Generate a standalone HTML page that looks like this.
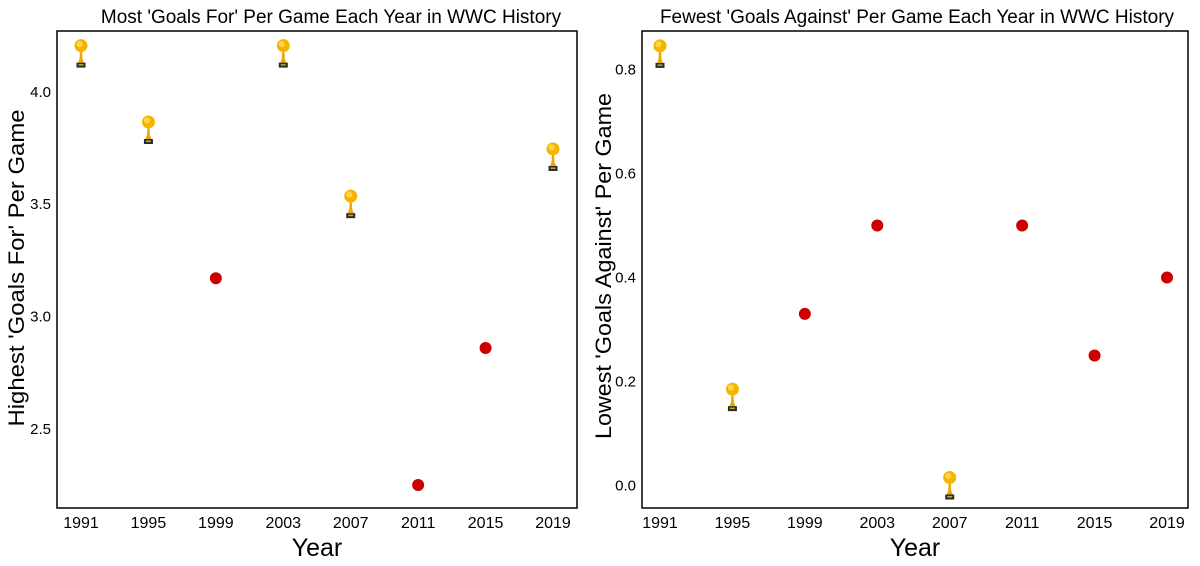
<!DOCTYPE html>
<html><head><meta charset="utf-8"><style>
body{margin:0;background:#fff;font-family:"Liberation Sans",sans-serif}
svg text{font-family:"Liberation Sans",sans-serif}
</style></head><body>
<svg id="c" width="1200" height="561" xmlns="http://www.w3.org/2000/svg">
<defs>
<g id="trophy">
<rect x="-4.5" y="9" width="9" height="5" fill="#2b2b2b"/>
<rect x="-2.5" y="10.5" width="5" height="1.5" fill="#c9a040"/>
<path d="M-1,-4 L1,-4 L1.5,5 L3,9 L-3,9 L-1.5,5 Z" fill="#f0a800"/>
<circle cx="0" cy="-8" r="6.5" fill="#f5b400"/>
<circle cx="-1.5" cy="-9.5" r="3" fill="#ffd84a"/>
</g>
</defs>
</svg>
<script>
const years=[1991,1995,1999,2003,2007,2011,2015,2019];
const gfValues=[4.17,3.83,3.17,4.17,3.5,2.25,2.86,3.71];
const gfWinner=[true,true,false,true,true,false,false,true];
const gaValues=[0.83,0.17,0.33,0.5,0,0.5,0.25,0.4];
const gaWinner=[true,true,false,false,true,false,false,false];
const gfTicks=[2.5,3.0,3.5,4.0];
const gaTicks=[0.0,0.2,0.4,0.6,0.8];
const NS="http://www.w3.org/2000/svg";
const svg=document.getElementById('c');
function el(t,a,p){const e=document.createElementNS(NS,t);for(const k in a)e.setAttribute(k,a[k]);(p||svg).appendChild(e);return e;}
function panel(o){
 const g=el('g',{});
 
 
 const x=y=>o.x0+(y-1991)/28*(o.x1-o.x0);
 const yv=v=>o.y0+(v-o.v0)*o.k;
 const b=el('rect',{x:o.L,y:31,width:o.R-o.L,height:477,fill:'none',stroke:'#000','stroke-width':1.5},g);
 
 
 const t=el('text',{x:o.tx,y:23,'text-anchor':'middle','font-size':19},g);t.textContent=o.title;
 
 
 o.ticks.forEach(v=>{const tt=el('text',{x:o.L-6,y:yv(v)+5,'text-anchor':'end','font-size':15},g);tt.textContent=v.toFixed(1);
  
  });
 years.forEach((yr)=>{const tt=el('text',{x:x(yr),y:528,'text-anchor':'middle','font-size':16},g);tt.textContent=yr;
  
  });
 const xt=el('text',{x:(o.L+o.R)/2,y:556,'text-anchor':'middle','font-size':25},g);xt.textContent='Year';
 
 
 const cy=o.ycy, tx=o.ytx;
 const yt=el('text',{x:tx,y:cy,'text-anchor':'middle','font-size':22,textLength:o.ylen,lengthAdjust:'spacingAndGlyphs',transform:`rotate(-90 ${tx} ${cy})`},g);yt.textContent=o.ytitle;
 
 
 years.forEach((yr,i)=>{
  const px=x(yr),py=yv(o.vals[i]);
  if(o.win[i]){const u=el('use',{href:'#trophy',transform:`translate(${px},${py})`},g);
   
   }
  else{const c=el('circle',{cx:px,cy:py,r:6,fill:'#cc0000'},g);
   
   }
 });
}
panel({name:'goals-for-panel',L:57,R:577,tx:331,ytx:24,ycy:268,ylen:317,x0:81,x1:553,y0:91.8,v0:4.0,k:-224.7,ticks:gfTicks,vals:gfValues,win:gfWinner,
 title:"Most 'Goals For' Per Game Each Year in WWC History",ytitle:"Highest 'Goals For' Per Game"});
panel({name:'goals-against-panel',L:642,R:1188,tx:917,ytx:611,ycy:266,ylen:346,x0:660,x1:1167,y0:485.5,v0:0,k:-520,ticks:gaTicks,vals:gaValues,win:gaWinner,
 title:"Fewest 'Goals Against' Per Game Each Year in WWC History",ytitle:"Lowest 'Goals Against' Per Game"});
</script>
</body></html>
